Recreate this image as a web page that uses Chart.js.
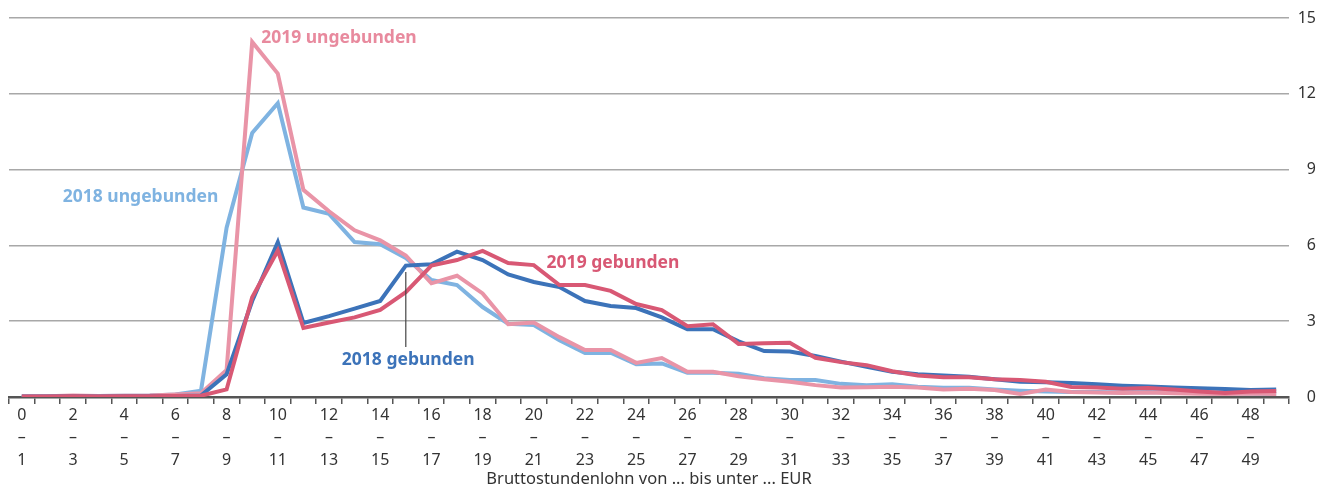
<!DOCTYPE html>
<html>
<head>
<meta charset="utf-8">
<script src="https://cdn.jsdelivr.net/npm/chart.js@4/dist/chart.umd.min.js"></script>
<style>
  html, body { margin: 0; padding: 0; background: #fff; }
  #wrap { width: 1324px; height: 491px; }
</style>
</head>
<body>
<div id="wrap"><canvas id="chart" width="1324" height="491"></canvas></div>
<script>
// Lohnklassen 0-1 ... 49-50 EUR
var classes = [];
for (var i = 0; i < 50; i++) classes.push(i);

var yTicks = [0, 3, 6, 9, 12, 15];

var geb2018 = [0.02, 0.02, 0.03, 0.02, 0.03, 0.03, 0.04, 0.06, 0.9, 3.8,
               6.13, 2.93, 3.2, 3.5, 3.8, 5.2, 5.25, 5.75, 5.42, 4.85,
               4.55, 4.35, 3.8, 3.6, 3.52, 3.15, 2.68, 2.68, 2.2, 1.82,
               1.8, 1.62, 1.4, 1.2, 1.0, 0.9, 0.85, 0.8, 0.7, 0.6,
               0.58, 0.55, 0.5, 0.45, 0.42, 0.38, 0.35, 0.32, 0.28, 0.3];

var geb2019 = [0.02, 0.02, 0.03, 0.02, 0.03, 0.03, 0.04, 0.05, 0.3, 3.95,
               5.8, 2.73, 2.95, 3.15, 3.45, 4.15, 5.2, 5.42, 5.78, 5.3,
               5.22, 4.43, 4.43, 4.2, 3.68, 3.44, 2.8, 2.88, 2.1, 2.13,
               2.15, 1.55, 1.38, 1.26, 1.02, 0.85, 0.78, 0.78, 0.7, 0.67,
               0.6, 0.4, 0.38, 0.33, 0.36, 0.3, 0.22, 0.16, 0.22, 0.24];

var ungeb2018 = [0.02, 0.03, 0.04, 0.04, 0.05, 0.06, 0.1, 0.25, 6.7, 10.45,
                 11.63, 7.5, 7.25, 6.13, 6.05, 5.5, 4.63, 4.43, 3.56, 2.9,
                 2.85, 2.25, 1.74, 1.75, 1.3, 1.33, 0.96, 0.96, 0.92, 0.74,
                 0.67, 0.67, 0.52, 0.47, 0.5, 0.41, 0.37, 0.37, 0.3, 0.25,
                 0.22, 0.2, 0.2, 0.18, 0.2, 0.18, 0.16, 0.15, 0.14, 0.12];

var ungeb2019 = [0.02, 0.03, 0.06, 0.04, 0.05, 0.06, 0.1, 0.15, 1.07, 14.05,
                 12.8, 8.2, 7.35, 6.6, 6.2, 5.6, 4.5, 4.8, 4.1, 2.88,
                 2.95, 2.37, 1.86, 1.86, 1.35, 1.54, 1.0, 1.0, 0.82, 0.7,
                 0.6, 0.47, 0.38, 0.39, 0.41, 0.38, 0.3, 0.33, 0.28, 0.12,
                 0.3, 0.2, 0.18, 0.16, 0.18, 0.15, 0.13, 0.12, 0.14, 0.12];

var C_GEB18 = '#3c73b9';
var C_UNG18 = '#7fb3e1';
var C_GEB19 = '#d85874';
var C_UNG19 = '#e994a7';

// Beschriftungen an den Linien (x = Klasse, y = Wert)
var notes = [
  { text: '2019 ungebunden', x: 9.35, y: 14.2, color: '#e88a9e' },
  { text: '2018 ungebunden', x: 1.6, y: 7.9, color: C_UNG18 },
  { text: '2019 gebunden', x: 20.5, y: 5.3, color: C_GEB19 },
  { text: '2018 gebunden', x: 12.5, y: 1.45, color: C_GEB18 }
];

var notesPlugin = {
  id: 'notes',
  afterDatasetsDraw: function (chart) {
    var c = chart.ctx, xs = chart.scales.x, ys = chart.scales.y;
    c.save();
    // Hinweisstrich 2018 gebunden
    c.strokeStyle = '#444';
    c.lineWidth = 1.2;
    c.beginPath();
    c.moveTo(xs.getPixelForValue(15), ys.getPixelForValue(4.95));
    c.lineTo(xs.getPixelForValue(15), ys.getPixelForValue(1.98));
    c.stroke();
    c.font = 'bold 17.5px "Noto Sans"';
    c.textBaseline = 'middle';
    c.textAlign = 'left';
    notes.forEach(function (n) {
      var px = xs.getPixelForValue(0) + (xs.getPixelForValue(1) - xs.getPixelForValue(0)) * n.x;
      c.fillStyle = n.color;
      c.fillText(n.text, px, ys.getPixelForValue(n.y));
    });
    c.restore();
  }
};

function line(label, data, color, order) {
  return {
    label: label,
    data: data,
    borderColor: color,
    backgroundColor: color,
    borderWidth: 4,
    pointRadius: 0,
    tension: 0,
    order: order
  };
}

var ctx = document.getElementById('chart').getContext('2d');
var myChart = new Chart(ctx, {
  type: 'line',
  data: {
    labels: classes,
    datasets: [
      line('2019 gebunden', geb2019, C_GEB19, 0),
      line('2018 gebunden', geb2018, C_GEB18, 1),
      line('2019 ungebunden', ungeb2019, C_UNG19, 2),
      line('2018 ungebunden', ungeb2018, C_UNG18, 3)
    ]
  },
  options: {
    responsive: false,
    animation: false,
    layout: { padding: { left: 9, right: 8, top: 18, bottom: 2 } },
    plugins: { legend: { display: false }, tooltip: { enabled: false } },
    scales: {
      x: {
        offset: true,
        grid: { offset: true, drawOnChartArea: false, drawTicks: true, tickLength: 7, color: '#555', lineWidth: 1.5 },
        border: { display: true, color: '#555', width: 2.5 },
        ticks: {
          autoSkip: false,
          maxRotation: 0,
          color: '#333',
          padding: 0,
          font: { family: '"Noto Sans"', size: 16, lineHeight: 1.4 },
          callback: function (v, i) {
            return i % 2 === 0 ? [String(classes[i]), '–', String(classes[i] + 1)] : '';
          }
        },
        title: {
          display: true,
          text: 'Bruttostundenlohn von ... bis unter ... EUR',
          color: '#333',
          font: { family: '"Noto Sans"', size: 16.5 },
          padding: { top: 2, bottom: 0 }
        },
        afterFit: function (s) { s.height = 92; }
      },
      y: {
        position: 'right',
        min: 0,
        max: 15,
        afterBuildTicks: function (s) { s.ticks = yTicks.map(function (v) { return { value: v }; }); },
        grid: { color: '#a8a8a8', lineWidth: 1.5, drawTicks: false },
        border: { display: false },
        ticks: {
          color: '#333',
          crossAlign: 'far',
          padding: 0,
          font: { family: '"Noto Sans"', size: 16 }
        },
        afterFit: function (s) { s.width = 27; }
      }
    }
  },
  plugins: [notesPlugin]
});
</script>
</body>
</html>
